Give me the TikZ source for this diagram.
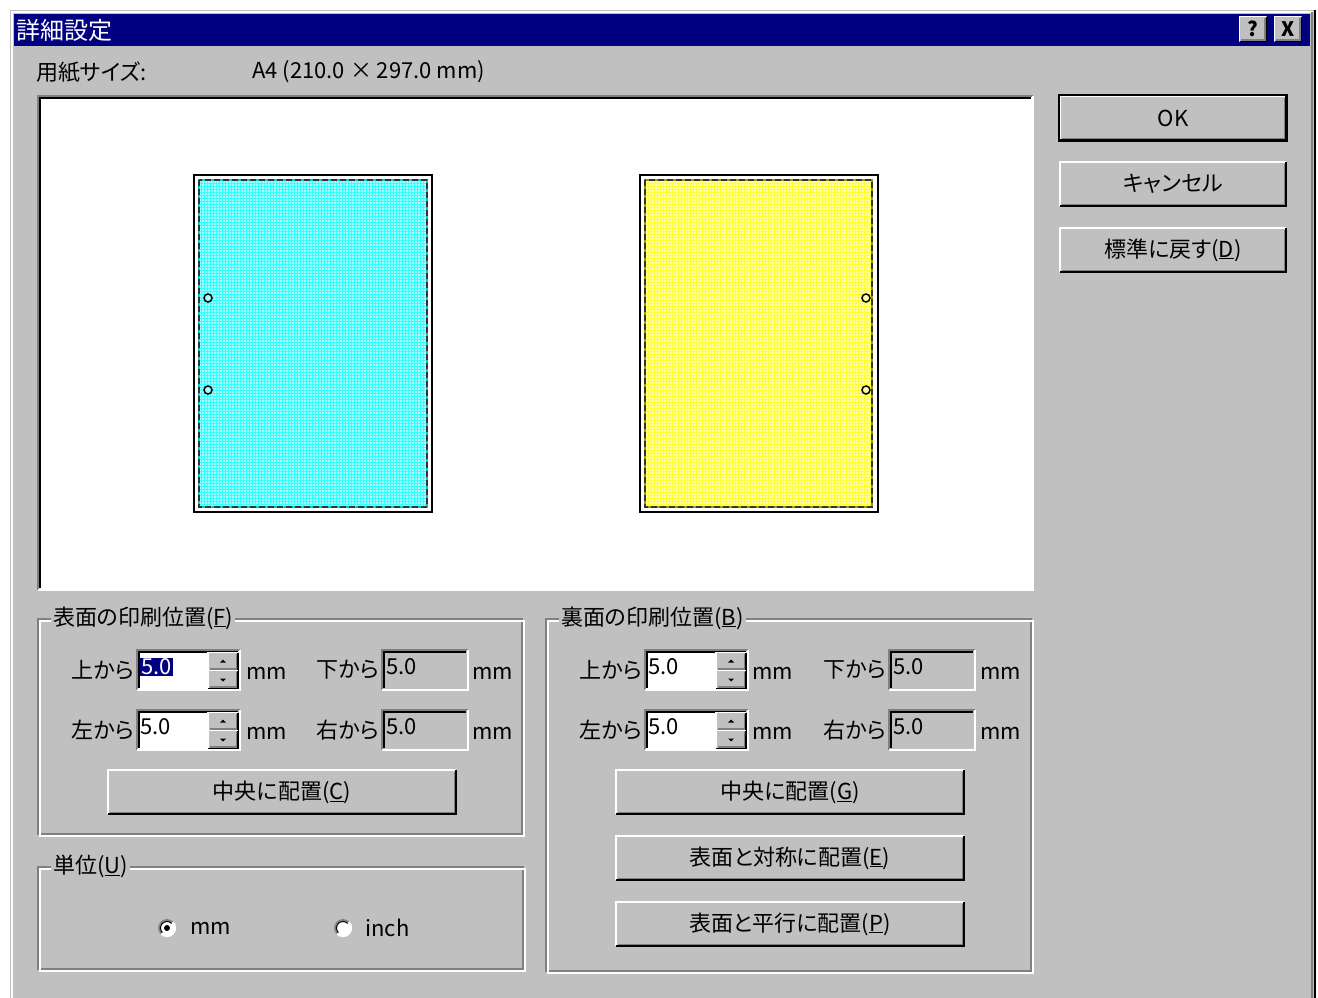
\documentclass[tikz,border=0pt]{standalone}
\usepackage{fontspec}
\setmainfont{Noto Sans CJK JP}[RawFeature=+palt]
\usetikzlibrary{positioning}

\definecolor{winbg}{HTML}{C0C0C0}
\definecolor{winshade}{HTML}{808080}
\definecolor{wintitle}{HTML}{000080}
\definecolor{sheetcyan}{HTML}{00FFFF}
\definecolor{sheetyellow}{HTML}{FFFF00}

\tikzset{
  txt/.style={inner sep=0pt, font=\fontsize{22}{22}\selectfont},
  lbl/.style={txt, anchor=west},
  rlbl/.style={txt, anchor=east},
  val/.style={lbl},
  selval/.style={lbl, fill=wintitle, text=white, inner sep=1pt},
  btn/.style={txt, fill=winbg, minimum width=349pt, minimum height=45pt},
  sidebtn/.style={btn, minimum width=227pt},
  spin/.style={fill=winbg, minimum width=31pt, minimum height=19pt, inner sep=0pt},
  grptitle/.style={lbl, fill=winbg, inner xsep=2pt},
  etchdark/.style={winshade, line width=1.5pt},
  etchlight/.style={white, line width=1.5pt},
  radio/.style={circle, fill=white, minimum size=18pt, inner sep=0pt},
}

\begin{document}
\begin{tikzpicture}[x=1pt,y=-1pt]
\useasboundingbox (0,0) rectangle (1318,998);
\fill[white] (0,0) rectangle (1318,998);

% dialog window and title bar
\fill[winbg] (10,10) rectangle (1316,998);
\draw[white, line width=2pt] (12,998) -- (12,12) -- (1313,12);
\draw[winshade, line width=2pt] (1312,12) -- (1312,998);
\draw[black, line width=2pt] (1315,10) -- (1315,998);
\fill[wintitle] (14,14) rectangle (1310,46);
\node[lbl, text=white, font=\fontsize{24}{24}\selectfont] (title) at (16,30) {詳細設定};
\node[txt, fill=winbg, minimum width=28pt, minimum height=26pt, font=\bfseries\fontsize{20}{20}\selectfont] (help) at (1253,29) {?};
\node[txt, fill=winbg, minimum width=28pt, minimum height=26pt, font=\bfseries\fontsize{20}{20}\selectfont] (close) at (1288,29) {X};

% paper size
\node[lbl] (sizelbl) at (36,72) {用紙サイズ:};
\node[lbl] (sizeval) at (252,72) {A4 (210.0 × 297.0 mm)};

% preview area
\fill[white] (38,96) rectangle (1033,590);
\draw[winshade, line width=1.5pt] (38,590) |- (1033,96);
\draw[black, line width=1.5pt] (40,588) |- (1031,98);
\draw[white, line width=1.5pt] (38,590) -| (1033,96);

% front sheet
\draw[black, line width=2.5pt, fill=white] (194,175) rectangle (432,512);
\fill[sheetcyan!35!white] (199,180) rectangle (427,507);
\draw[sheetcyan!80!white, line width=0.7pt] (199,180) grid[step=3pt] (427,507);
\draw[sheetcyan!80!black, line width=1.5pt] (199,180) rectangle (427,507);
\draw[black!80, line width=1.5pt, dash pattern=on 6pt off 3pt] (199,180) rectangle (427,507);
\foreach \hy in {298,390}
  \draw[black, line width=1.5pt, fill=sheetcyan!35!white] (208,\hy) circle (4pt);

% back sheet
\draw[black, line width=2.5pt, fill=white] (640,175) rectangle (878,512);
\fill[sheetyellow!35!white] (645,180) rectangle (872,507);
\draw[sheetyellow!80!white, line width=0.7pt] (645,180) grid[step=3pt] (872,507);
\draw[sheetyellow!60!black, line width=1.5pt] (645,180) rectangle (872,507);
\draw[black!80, line width=1.5pt, dash pattern=on 6pt off 3pt] (645,180) rectangle (872,507);
\foreach \hy in {298,390}
  \draw[black, line width=1.5pt, fill=sheetyellow!35!white] (866,\hy) circle (4pt);

% group frames
\draw[etchdark] (38,619) rectangle (522,834);
\draw[etchlight] (40,621) rectangle (524,836);
\node[grptitle] (grpF) at (51,618) {表面の印刷位置(\underline{F})};
\draw[etchdark] (546,619) rectangle (1031,971);
\draw[etchlight] (548,621) rectangle (1033,973);
\node[grptitle] (grpB) at (559,618) {裏面の印刷位置(\underline{B})};
\draw[etchdark] (38,867) rectangle (523,969);
\draw[etchlight] (40,869) rectangle (525,971);
\node[grptitle] (grpU) at (51,866) {単位(\underline{U})};

% spin edits
\foreach \ex/\ey/\en/\vs in {137/650/tF/selval,137/710/lF/val,645/650/tB/val,645/710/lB/val}{
  \fill[white] (\ex,\ey) rectangle (\ex+103,\ey+40);
  \draw[winshade, line width=1.5pt] (\ex,\ey+40) |- (\ex+103,\ey);
  \draw[black, line width=1.5pt] (\ex+2,\ey+38) |- (\ex+101,\ey+2);
  \draw[white, line width=1.5pt] (\ex,\ey+40) -| (\ex+103,\ey);
  \node[spin] (\en-u) at (\ex+86,\ey+11.5) {};
  \node[spin] (\en-d) at (\ex+86,\ey+29.5) {};
  \node[\vs] (\en-val) at (\ex+3,\ey+17) {5.0};
}

% plain edits
\foreach \ex/\ey/\en in {382/650/bF,382/710/rF,889/650/bB,889/710/rB}{
  \draw[winshade, line width=1.5pt] (\ex,\ey+40) |- (\ex+86,\ey);
  \draw[black, line width=1.5pt] (\ex+2,\ey+38) |- (\ex+84,\ey+2);
  \draw[white, line width=1.5pt] (\ex,\ey+40) -| (\ex+86,\ey);
  \node[val] (\en-val) at (\ex+4,\ey+17) {5.0};
}

% field labels
\foreach \lx/\ly/\ln/\lt in {134/670/tF/上から,134/730/lF/左から,379/670/bF/下から,379/730/rF/右から,
                             642/670/tB/上から,642/730/lB/左から,886/670/bB/下から,886/730/rB/右から}
  \node[rlbl] (\ln-lbl) at (\lx,\ly) {\lt};
\foreach \ux/\uy/\un in {246/673/tF,246/733/lF,472/673/bF,472/733/rF,752/673/tB,752/733/lB,980/673/bB,980/733/rB}
  \node[lbl] (\un-mm) at (\ux,\uy) {mm};

% push buttons
\node[sidebtn] (ok) at (1173,118) {OK};
\node[sidebtn] (cancel) at (1173,184) {キャンセル};
\node[sidebtn] (reset) at (1173,250) {標準に戻す(\underline{D})};
\node[btn] (ctrF) at (282,792) {中央に配置(\underline{C})};
\node[btn] (ctrB) at (790,792) {中央に配置(\underline{G})};
\node[btn] (symB) at (790,858) {表面と対称に配置(\underline{E})};
\node[btn] (parB) at (790,924) {表面と平行に配置(\underline{P})};

\foreach \b in {help,close,ok,cancel,reset,ctrF,ctrB,symB,parB,tF-u,tF-d,lF-u,lF-d,tB-u,tB-d,lB-u,lB-d}{
  \draw[white, line width=1.5pt] ([shift={(0.75pt,0.75pt)}]\b.south west) |- ([shift={(-0.75pt,-0.75pt)}]\b.north east);
  \draw[black, line width=1.5pt] ([shift={(0.75pt,0.75pt)}]\b.south west) -| ([shift={(-0.75pt,-0.75pt)}]\b.north east);
  \draw[winshade, line width=1.5pt] ([shift={(2.25pt,2.25pt)}]\b.south west) -| ([shift={(-2.25pt,-2.25pt)}]\b.north east);
}
\draw[black, line width=2pt] (ok.south west) rectangle (ok.north east);

% spin arrows
\foreach \en in {tF,lF,tB,lB}{
  \fill ([yshift=2pt]\en-u.center) -- ++(-3pt,-3pt) -- ++(6pt,0pt) -- cycle;
  \fill ([yshift=-2pt]\en-d.center) -- ++(-3pt,3pt) -- ++(6pt,0pt) -- cycle;
}

% unit radios
\node[radio] (rmm) at (167,928) {};
\node[radio] (rinch) at (343,928) {};
\foreach \r in {rmm,rinch}{
  \draw[winshade, line width=2pt] ([shift={(45:8pt)}]\r.center) arc[start angle=45, end angle=225, radius=8pt];
  \draw[black, line width=1pt] ([shift={(45:6.5pt)}]\r.center) arc[start angle=45, end angle=225, radius=6.5pt];
  \draw[white, line width=2pt] ([shift={(225:8pt)}]\r.center) arc[start angle=225, end angle=405, radius=8pt];
}
\fill (rmm.center) circle (3pt);
\node[lbl, right=14pt of rmm] (rmm-lbl) {mm};
\node[lbl, right=13pt of rinch] (rinch-lbl) {inch};
\end{tikzpicture}
\end{document}
